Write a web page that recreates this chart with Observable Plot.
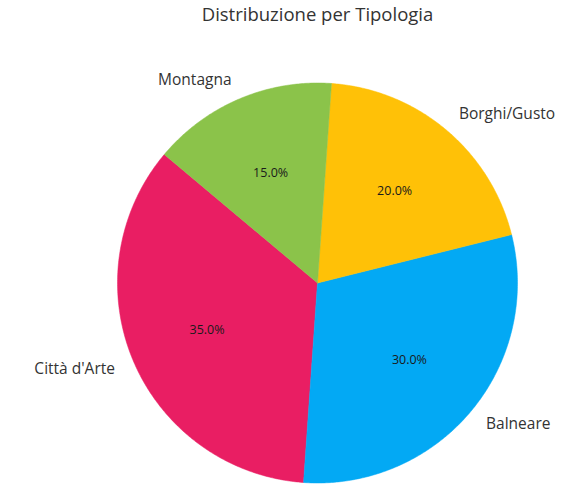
<!DOCTYPE html>
<html>
<head>
<meta charset="utf-8">
<script src="https://cdn.jsdelivr.net/npm/d3@7"></script>
<script src="https://cdn.jsdelivr.net/npm/@observablehq/plot@0.6"></script>
<style>
  html, body { margin: 0; padding: 0; background: #fff; }
</style>
</head>
<body>
<div id="chart"></div>
<script>
const categories = ["Città d'Arte", "Balneare", "Borghi/Gusto", "Montagna"];
const shares = [35, 30, 20, 15];
const colors = ["#E91E63", "#03A9F4", "#FFC107", "#8BC34A"];
const title = "Distribuzione per Tipologia";
const startAngleDeg = 140; // matplotlib-style, counterclockwise from +x

const total = d3.sum(shares);
const slices = [];
let acc = startAngleDeg;
categories.forEach((c, i) => {
  const span = shares[i] / total * 360;
  slices.push({label: c, value: shares[i], color: colors[i], a0: acc, a1: acc + span, mid: acc + span / 2});
  acc += span;
});

const rad = d => d * Math.PI / 180;
const polys = [];
slices.forEach(s => {
  polys.push({label: s.label, x: 0, y: 0});
  const n = Math.max(2, Math.ceil((s.a1 - s.a0) / 0.5));
  for (let k = 0; k <= n; k++) {
    const a = rad(s.a0 + (s.a1 - s.a0) * k / n);
    polys.push({label: s.label, x: Math.cos(a), y: Math.sin(a)});
  }
  polys.push({label: s.label, x: 0, y: 0});
});

const labels = slices.map(s => ({
  label: s.label,
  x: 1.1 * Math.cos(rad(s.mid)),
  y: 1.1 * Math.sin(rad(s.mid)),
  pct: (s.value / total * 100).toFixed(1) + "%",
  px: 0.6 * Math.cos(rad(s.mid)),
  py: 0.6 * Math.sin(rad(s.mid))
}));

const W = 572, H = 488, R = 200, cx = 317, cy = 282.5;

const chart = Plot.plot({
  width: W, height: H,
  margin: 0,
  x: {domain: [-cx / R, (W - cx) / R], range: [0, W], axis: null},
  y: {domain: [-(H - cy) / R, cy / R], range: [H, 0], axis: null},
  color: {domain: categories, range: colors},
  style: {fontFamily: "'Open Sans', sans-serif", background: "#fff"},
  marks: [
    Plot.line(polys, {x: "x", y: "y", z: "label", fill: "label", stroke: "label", strokeWidth: 0.5, curve: "linear"}),
    Plot.text(labels.filter(d => d.x < 0), {x: "x", y: "y", text: "label", textAnchor: "end", fontSize: 15.5, fill: "#333"}),
    Plot.text(labels.filter(d => d.x >= 0), {x: "x", y: "y", text: "label", textAnchor: "start", fontSize: 15.5, fill: "#333"}),
    Plot.text(labels, {x: "px", y: "py", text: "pct", fontSize: 12.5, fill: "#1a1a1a", letterSpacing: "-0.4px"}),
    Plot.text([title], {frameAnchor: "top", dx: cx - W / 2, dy: 7, fontSize: 18.5, fill: "#333"})
  ]
});
document.getElementById("chart").appendChild(chart);
</script>
</body>
</html>
